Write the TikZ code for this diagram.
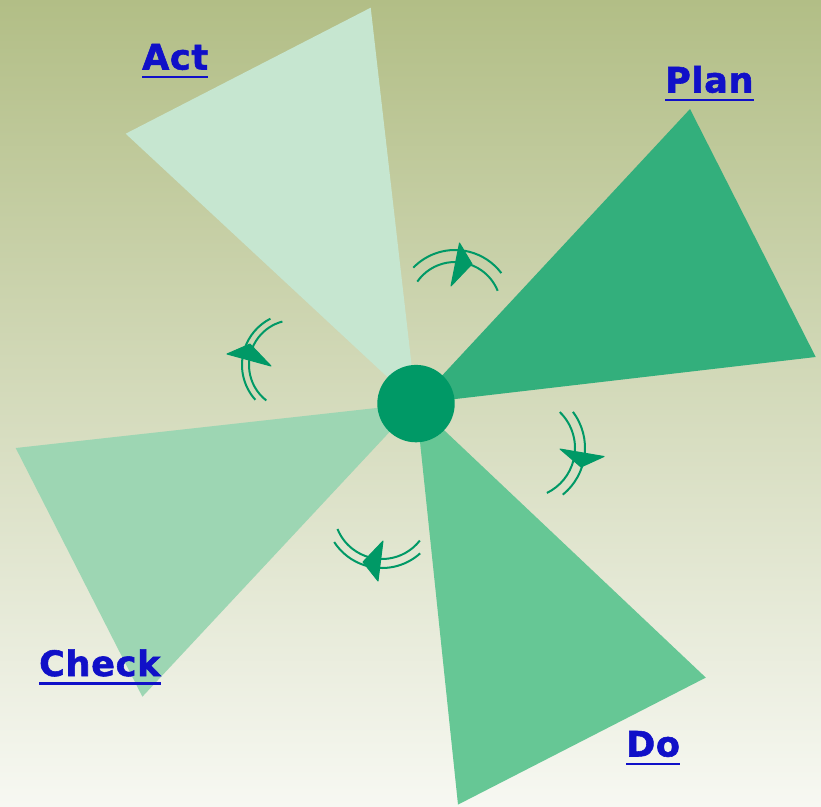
\documentclass[tikz,border=0pt]{standalone}
\usepackage{fontspec}
\setmainfont{DejaVu Sans}
\newfontface\lblfont{DejaVu Sans Bold}[FakeBold=1.6,LetterSpace=2]
\definecolor{bgtop}{HTML}{B2BE86}
\definecolor{bgmid}{HTML}{D5DBBA}
\definecolor{bgbot}{HTML}{F7F8F2}
\definecolor{planc}{HTML}{33AF7C}
\definecolor{doc}{HTML}{66C795}
\definecolor{checkc}{HTML}{9DD6B3}
\definecolor{actc}{HTML}{C6E6D0}
\definecolor{hubc}{HTML}{009966}
\definecolor{lblc}{HTML}{1010C8}
\begin{document}
\begin{tikzpicture}[x=1pt,y=-1pt,
  lbl/.style={text=lblc,inner sep=0pt,anchor=base west,font=\fontsize{35}{40}\lblfont},
  uline/.style={draw=lblc,line width=2.2pt},
  arcline/.style={draw=hubc,line width=2pt},
  ahead/.style={fill=hubc,draw=hubc,line width=1pt,line join=round}]
\useasboundingbox (0,0) rectangle (821,806);
\shade[top color=bgtop,middle color=bgmid,bottom color=bgbot] (0,0) rectangle (821,806);
\coordinate (c) at (416,403.6);
% blades
\fill[actc] (c) -- (125.7,133.7) -- (370.7,7.7) -- cycle;
\fill[planc] (c) -- (690,109) -- (815.7,357) -- cycle;
\fill[doc] (c) -- (705.8,677.6) -- (458,804.6) -- cycle;
\fill[checkc] (c) -- (15.7,448) -- (142.4,696.7) -- cycle;
% hub
\fill[hubc] (c) circle[radius=38.7];
% top arrow
\draw[arcline] (455,308) ++(-136:58) arc[start angle=-136,end angle=-37,radius=58];
\draw[arcline] (455,308) ++(-145:46) arc[start angle=-145,end angle=-22,radius=46];
\filldraw[ahead] (459.5,243) -- (472,264) -- (451,286) -- cycle;
% right arrow
\draw[arcline] (525,448) ++(-37:60) arc[start angle=-37,end angle=51,radius=60];
\draw[arcline] (525,448) ++(-46:50) arc[start angle=-46,end angle=64,radius=50];
\filldraw[ahead] (560,449) -- (604,456.5) -- (581,467) -- cycle;
% bottom arrow
\draw[arcline] (382,511) ++(48:57) arc[start angle=48,end angle=147,radius=57];
\draw[arcline] (382,511) ++(38:48) arc[start angle=38,end angle=158,radius=48];
\filldraw[ahead] (383,541) -- (378,581) -- (363,562) -- cycle;
% left arrow
\draw[arcline] (294,365) ++(138:52) arc[start angle=138,end angle=243,radius=52];
\draw[arcline] (294,365) ++(128:45) arc[start angle=128,end angle=255,radius=45];
\filldraw[ahead] (227,354) -- (250,344) -- (271,366) -- cycle;
% labels
\node[lbl] (act) at (142,69.5) {Act};
\node[lbl] (plan) at (665,92.5) {Plan};
\node[lbl] (check) at (39,676) {Check};
\node[lbl] (do) at (626,756.5) {Do};
\foreach \n in {act,plan,check,do}
  \draw[uline] ([yshift=-7.5pt]\n.base west) -- ([yshift=-7.5pt]\n.base east);
\end{tikzpicture}
\end{document}
